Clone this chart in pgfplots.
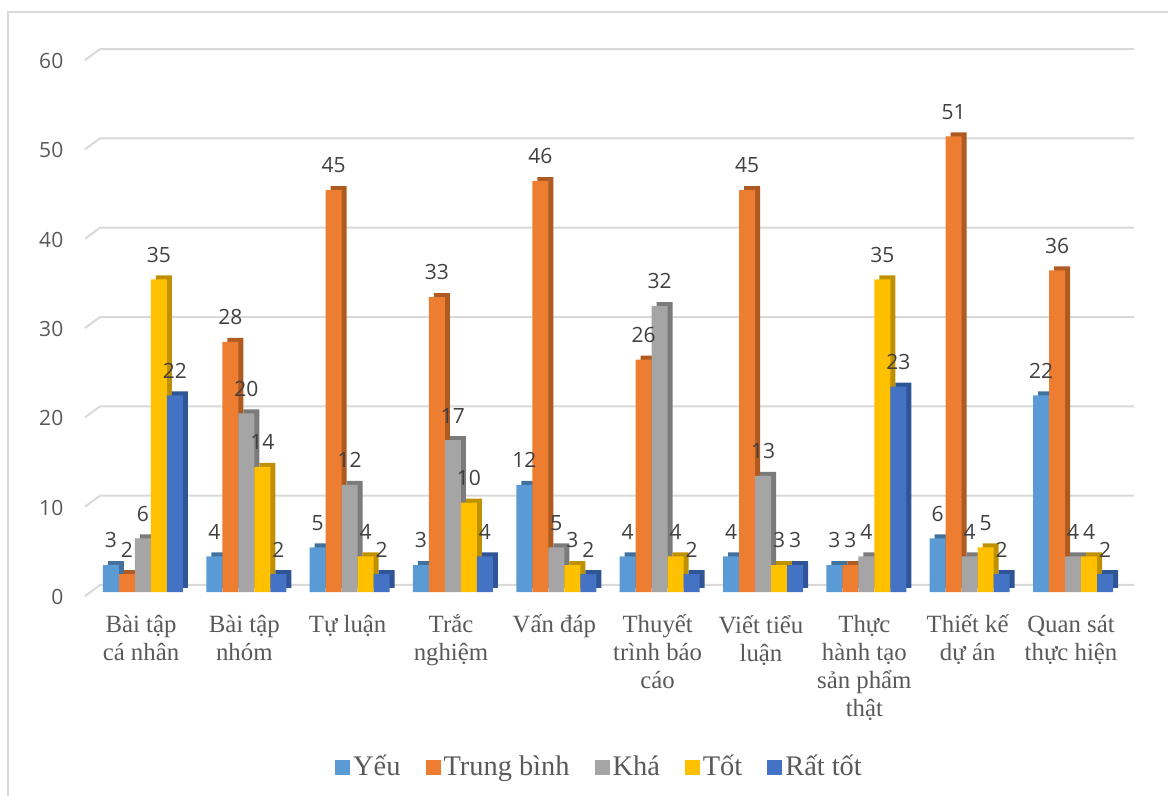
\documentclass[border=0pt]{standalone}
\usepackage{pgfplots}
\pgfplotsset{compat=1.18}
\usepackage{pgfplotstable}
\usepackage{fontspec}
\setmainfont{Liberation Serif}
\newfontfamily\osans{Open Sans}
\definecolor{c1}{HTML}{5B9BD5}\definecolor{c1d}{HTML}{41719C}
\definecolor{c2}{HTML}{ED7D31}\definecolor{c2d}{HTML}{AE5A21}
\definecolor{c3}{HTML}{A5A5A5}\definecolor{c3d}{HTML}{7B7B7B}
\definecolor{c4}{HTML}{FFC000}\definecolor{c4d}{HTML}{BF9000}
\definecolor{c5}{HTML}{4472C4}\definecolor{c5d}{HTML}{2F5597}
\definecolor{gridc}{HTML}{D9D9D9}
\definecolor{txt}{HTML}{595959}
\definecolor{lbl}{HTML}{404040}
\pgfplotstableread{
x y1 y2 y3 y4 y5
0 3 2 6 35 22
1 4 28 20 14 2
2 5 45 12 4 2
3 3 33 17 10 4
4 12 46 5 3 2
5 4 26 32 4 2
6 4 45 13 3 3
7 3 3 4 35 23
8 6 51 4 5 2
9 22 36 4 4 2
}\datatable
\begin{document}
\begin{tikzpicture}
\useasboundingbox (0,0) rectangle (584bp,398bp);
\draw[gridc, line width=0.8bp] (4bp,0) -- (4bp,392bp) -- (584bp,392bp);
\begin{axis}[
  at={(45.65bp,102bp)}, anchor=south west,
  scale only axis, width=516.7bp, height=268bp,
  xmin=-0.5, xmax=9.5, ymin=0, ymax=60,
  clip=false,
  axis line style={draw=none},
  major tick length=0pt,
  ytick={0,10,...,60},
  xtick={0,...,9},
  xticklabels={Bài tập\\cá nhân, Bài tập\\nhóm, Tự luận, Trắc\\nghiệm, Vấn đáp, Thuyết\\trình báo\\cáo, Viết tiểu\\luận, Thực\\hành tạo\\sản phẩm\\thật, Thiết kế\\dự án, Quan sát\\thực hiện},
  xticklabel style={font=\fontsize{12.4bp}{14bp}\selectfont, align=center, text=txt, yshift=-8bp, xshift=-1bp},
  yticklabel style={font=\osans\fontsize{10.5bp}{12bp}\selectfont, text=txt, xshift=-10.5bp, yshift=-2.5bp},
  /pgf/number format/assume math mode=true,
  ybar, bar width=8bp,
  legend columns=5,
  legend style={at={(0.4923,-0.3265)}, anchor=center, draw=none, fill=none,
    font=\fontsize{14.2bp}{16bp}\selectfont, text=txt,
    /tikz/every even column/.append style={column sep=11bp},
    nodes={inner sep=1.5bp}},
  legend image code/.code={\fill[#1] (0bp,-3.75bp) rectangle (7.5bp,3.75bp);},
  every node near coord/.append style={font=\osans\fontsize{10.5bp}{12bp}\selectfont, text=lbl, yshift=5bp},
]
\pgfplotsinvokeforeach{0,10,20,30,40,50,60}{
  \draw[gridc, line width=1bp] ([xshift=-3.15bp,yshift=-2bp]axis cs:-0.5,#1) -- ([xshift=4.4bp,yshift=3.5bp]axis cs:-0.5,#1) -- ([xshift=4.6bp,yshift=3.5bp]axis cs:9.5,#1);
}
\addplot[fill=c1d, draw=none, bar shift=-16bp, xshift=2.5bp, yshift=2bp, forget plot] table[x=x,y=y1]{\datatable};
\addplot[fill=c2d, draw=none, bar shift=-8bp, xshift=2.5bp, yshift=2bp, forget plot] table[x=x,y=y2]{\datatable};
\addplot[fill=c3d, draw=none, bar shift=0bp, xshift=2.5bp, yshift=2bp, forget plot] table[x=x,y=y3]{\datatable};
\addplot[fill=c4d, draw=none, bar shift=8bp, xshift=2.5bp, yshift=2bp, forget plot] table[x=x,y=y4]{\datatable};
\addplot[fill=c5d, draw=none, bar shift=16bp, xshift=2.5bp, yshift=2bp, forget plot] table[x=x,y=y5]{\datatable};
\addplot[fill=c1, draw=none, bar shift=-16bp, nodes near coords] table[x=x,y=y1]{\datatable};
\addlegendentry{Yếu}
\addplot[fill=c2, draw=none, bar shift=-8bp, nodes near coords] table[x=x,y=y2]{\datatable};
\addlegendentry{Trung bình}
\addplot[fill=c3, draw=none, bar shift=0bp, nodes near coords] table[x=x,y=y3]{\datatable};
\addlegendentry{Khá}
\addplot[fill=c4, draw=none, bar shift=8bp, nodes near coords] table[x=x,y=y4]{\datatable};
\addlegendentry{Tốt}
\addplot[fill=c5, draw=none, bar shift=16bp, nodes near coords] table[x=x,y=y5]{\datatable};
\addlegendentry{Rất tốt}
\end{axis}
\end{tikzpicture}
\end{document}
